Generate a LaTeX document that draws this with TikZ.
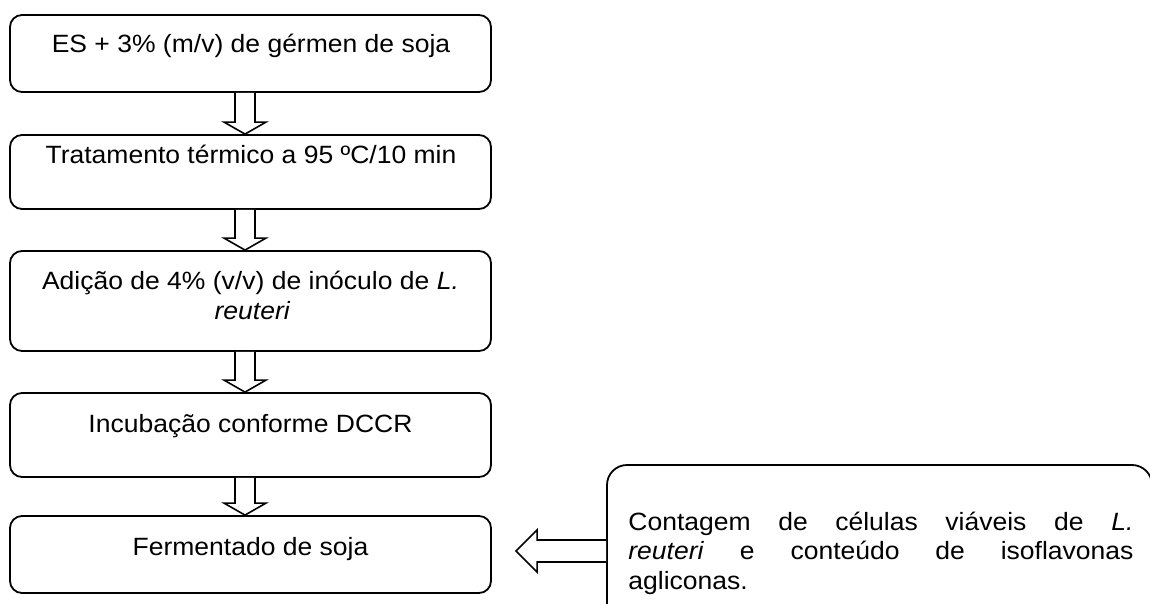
\documentclass[tikz,border=0pt]{standalone}
\usepackage{fontspec}
\setmainfont[FakeStretch=1.06]{Liberation Sans}
\usetikzlibrary{calc}
\newcommand\flowarrow[3]{%
  \draw[arrowline] ($(#1.south)+(#3-10,0)$) -- ($(#2.north)+(#3-10,-12)$) -- ($(#2.north)+(#3-21,-12)$) -- ($(#2.north)+(#3,0)$) -- ($(#2.north)+(#3+21,-12)$) -- ($(#2.north)+(#3+10,-12)$) -- ($(#1.south)+(#3+10,0)$);}
\begin{document}
\begin{tikzpicture}[x=0.5pt,y=-0.5pt,
  box/.style={draw, line width=0.9pt, rounded corners=6pt, minimum width=240.5pt, inner sep=0pt},
  txt/.style={anchor=base, inner sep=0pt, font=\fontsize{12.5}{14.75}\selectfont},
  arrowline/.style={draw, line width=0.8pt, line join=miter, fill=white}]
\useasboundingbox (0,0) rectangle (1150,604);
\begin{scope}
\clip (0,0) rectangle (1150,604);
\node[box, minimum height=38.5pt] (b1) at (250.5,53.5) {};
\node[box, minimum height=37pt] (b2) at (250.5,172) {};
\node[box, minimum height=50pt] (b3) at (250.5,301) {};
\node[box, minimum height=42pt] (b4) at (250.5,435) {};
\node[box, minimum height=38.5pt] (b5) at (250.5,554.5) {};
\node[box, rounded corners=10pt, minimum width=272.5pt, minimum height=92.5pt] (r) at (879.5,557.5) {};

\node[txt] (t1) at (251,53) {ES + 3\% (m/v) de gérmen de soja};
\node[txt] (t2) at (251,164) {Tratamento térmico a 95 ºC/10 min};
\node[txt] (t3a) at (250.5,289) {Adição de 4\% (v/v) de inóculo de \textit{L.}};
\node[txt] (t3b) at (252.5,319) {\textit{reuteri}};
\node[txt] (t4) at (250.5,432) {Incubação conforme DCCR};
\node[txt] (t5) at (250.5,555) {Fermentado de soja};
\node[anchor=base west, inner sep=0pt, font=\fontsize{12.5}{14.75}\selectfont] (tr) at (628,530)
  {\parbox[t]{252.5pt}{Contagem de células viáveis de \textit{L.}\linebreak \textit{reuteri} e conteúdo de isoflavonas\linebreak agliconas.}};

\flowarrow{b1}{b2}{-5.5}
\flowarrow{b2}{b3}{-5.5}
\flowarrow{b3}{b4}{-5.5}
\flowarrow{b4}{b5}{-5.5}

\draw[arrowline] ($(r.west)+(0,-17.5)$) -- ($(r.west)+(-69,-17.5)$) -- ($(r.west)+(-69,-27.5)$) -- ($(b5.east)+(24,-3.5)$) -- ($(r.west)+(-69,14.5)$) -- ($(r.west)+(-69,4.5)$) -- ($(r.west)+(0,4.5)$);
\end{scope}
\end{tikzpicture}
\end{document}
